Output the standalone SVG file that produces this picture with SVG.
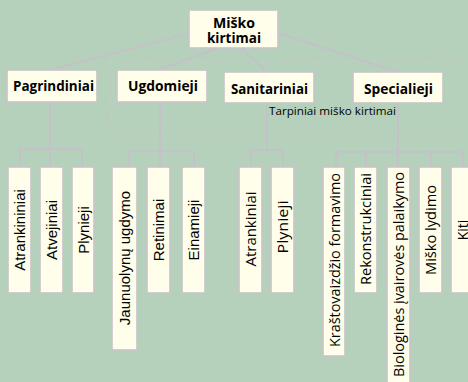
<svg xmlns="http://www.w3.org/2000/svg" width="468" height="382" viewBox="0 0 468 382">
<style>
.bg{fill:#b5d1bb}
.box{fill:#fffeeb;stroke:#c7c5c9;stroke-width:1.6}
.ln{stroke:#c5c1c9;stroke-width:2;fill:none}
.dot{stroke:#c6cbc7;stroke-width:2;stroke-dasharray:2 3.6;fill:none}
.h{font-family:"Open Sans","Noto Sans",sans-serif;font-weight:bold;font-size:14px;fill:#000;text-anchor:middle}
.vl{font-family:"Liberation Sans",Arial,sans-serif;font-size:15px;fill:#000;text-anchor:middle}
.vr{font-family:"Open Sans","Noto Sans",sans-serif;font-size:14px;fill:#000;text-anchor:middle}
.note{font-family:"Open Sans","Noto Sans",sans-serif;font-size:11px;fill:#000}
</style>
<rect class="bg" x="0" y="0" width="468" height="382"/>
<g id="group-tarpiniai">
<path class="dot" d="M111 62 H468 M111 62 V131 M111 131 H468"/>
<text class="note" x="269" y="115" textLength="127" lengthAdjust="spacingAndGlyphs">Tarpiniai miško kirtimai</text>
</g>
<g id="connectors">
<line class="ln" x1="195" y1="32" x2="50" y2="70"/>
<line class="ln" x1="224" y1="46" x2="158" y2="70"/>
<line class="ln" x1="238" y1="45" x2="267" y2="72"/>
<line class="ln" x1="272" y1="31" x2="398" y2="72"/>
<path class="ln" d="M50 102 V149 M20 149 H82 M20 149 V167 M50 149 V167 M82 149 V167"/>
<path class="ln" d="M160 102 V167 M129 151 H194 M129 151 V167 M194 151 V167"/>
<path class="ln" d="M267 103 V150 M251 150 H283 M251 150 V167 M283 150 V167"/>
<path class="ln" d="M398 103 V167 M336 152 H463 M336 152 V167 M366 152 V167 M431 152 V167 M463 152 V167"/>
</g>
<g id="node-misko-kirtimai">
<rect class="box" x="189" y="10" width="89" height="38"/>
<text class="h" x="234" y="27.5" textLength="42" lengthAdjust="spacingAndGlyphs">Miško</text>
<text class="h" x="234" y="43" textLength="54" lengthAdjust="spacingAndGlyphs">kirtimai</text>
</g>
<g id="node-pagrindiniai">
<rect class="box" x="7" y="70" width="90" height="32"/>
<text class="h" x="53.5" y="91" textLength="81" lengthAdjust="spacingAndGlyphs">Pagrindiniai</text>
</g>
<g id="node-ugdomieji">
<rect class="box" x="117" y="70" width="90" height="32"/>
<text class="h" x="163" y="91" textLength="70" lengthAdjust="spacingAndGlyphs">Ugdomieji</text>
</g>
<g id="node-sanitariniai">
<rect class="box" x="224" y="72" width="90" height="31"/>
<text class="h" x="269.5" y="93.5" textLength="77" lengthAdjust="spacingAndGlyphs">Sanitariniai</text>
</g>
<g id="node-specialieji">
<rect class="box" x="353" y="72" width="90" height="31"/>
<text class="h" x="398.5" y="93.5" textLength="69" lengthAdjust="spacingAndGlyphs">Specialieji</text>
</g>
<g id="node-p-atrankininiai">
<rect class="box" x="8" y="167" width="23" height="126"/>
<text class="vl" transform="translate(19.5 230) rotate(-90)" y="5.5">Atrankininiai</text>
</g>
<g id="node-p-atvejiniai">
<rect class="box" x="40" y="167" width="23" height="126"/>
<text class="vl" transform="translate(51.5 230) rotate(-90)" y="5.5">Atvejiniai</text>
</g>
<g id="node-p-plynieji">
<rect class="box" x="72" y="167" width="22" height="126"/>
<text class="vl" transform="translate(83 230) rotate(-90)" y="5.5">Plynieji</text>
</g>
<g id="node-u-jaunuolynu">
<rect class="box" x="112" y="167" width="25" height="183"/>
<text class="vl" transform="translate(124.5 258) rotate(-90)" y="5.5">Jaunuolynų ugdymo</text>
</g>
<g id="node-u-retinimai">
<rect class="box" x="147" y="167" width="23" height="126"/>
<text class="vl" transform="translate(158.5 230) rotate(-90)" y="5.5">Retinimai</text>
</g>
<g id="node-u-einamieji">
<rect class="box" x="182" y="167" width="23" height="126"/>
<text class="vl" transform="translate(193.5 230) rotate(-90)" y="5.5">Einamieji</text>
</g>
<g id="node-s-atrankiniai">
<rect class="box" x="239" y="167" width="23" height="126"/>
<text class="vr" transform="translate(250.5 229) rotate(-90)" y="5.5" textLength="75" lengthAdjust="spacingAndGlyphs">Atrankiniai</text>
</g>
<g id="node-s-plynieji">
<rect class="box" x="271" y="167" width="23" height="126"/>
<text class="vr" transform="translate(282.5 227) rotate(-90)" y="5.5" textLength="53" lengthAdjust="spacingAndGlyphs">Plynieji</text>
</g>
<g id="node-sp-krastovaizdzio">
<rect class="box" x="323" y="167" width="22" height="189"/>
<text class="vr" transform="translate(334 260) rotate(-90)" y="5.5" textLength="174" lengthAdjust="spacingAndGlyphs">Kraštovaizdžio formavimo</text>
</g>
<g id="node-sp-rekonstrukciniai">
<rect class="box" x="354" y="167" width="23" height="126"/>
<text class="vr" transform="translate(365.5 229) rotate(-90)" y="5.5" textLength="112" lengthAdjust="spacingAndGlyphs">Rekonstrukciniai</text>
</g>
<g id="node-sp-biologines">
<rect class="box" x="387" y="167" width="23" height="220"/>
<text class="vr" transform="translate(398.5 274.5) rotate(-90)" y="5.5" textLength="205" lengthAdjust="spacingAndGlyphs">Biologinės įvairovės palaikymo</text>
</g>
<g id="node-sp-misko-lydimo">
<rect class="box" x="419" y="167" width="23" height="126"/>
<text class="vr" transform="translate(430.5 230) rotate(-90)" y="5.5" textLength="90" lengthAdjust="spacingAndGlyphs">Miško lydimo</text>
</g>
<g id="node-sp-kiti">
<rect class="box" x="451" y="167" width="23" height="126"/>
<text class="vr" transform="translate(462.5 230) rotate(-90)" y="5">Kiti</text>
</g>
</svg>
